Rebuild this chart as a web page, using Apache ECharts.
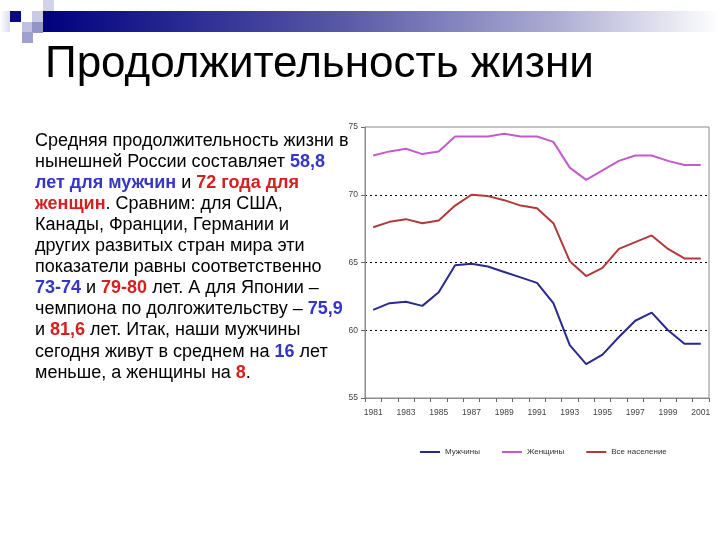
<!DOCTYPE html>
<html><head><meta charset="utf-8">
<script src="https://cdn.jsdelivr.net/npm/echarts@6/dist/echarts.min.js"></script>
<style>html,body{margin:0;padding:0;background:#fff}#c{width:720px;height:540px}</style>
</head><body><div id="c"></div>
<script>
const years = ['1981','1982','1983','1984','1985','1986','1987','1988','1989','1990','1991','1992','1993','1994','1995','1996','1997','1998','1999','2000','2001'];
const men =   [61.5,62.0,62.1,61.8,62.8,64.8,64.9,64.7,64.3,63.9,63.5,62.0,58.9,57.5,58.2,59.5,60.7,61.3,60.0,59.0,59.0];
const women = [72.9,73.2,73.4,73.0,73.2,74.3,74.3,74.3,74.5,74.3,74.3,73.9,72.0,71.1,71.8,72.5,72.9,72.9,72.5,72.2,72.2];
const all =   [67.6,68.0,68.2,67.9,68.1,69.2,70.0,69.9,69.6,69.2,69.0,67.9,65.1,64.0,64.6,66.0,66.5,67.0,66.0,65.3,65.3];
const seriesNames = ['Мужчины','Женщины','Все население'];
const yTicks = {min:55, max:75, interval:5};
const titleText = 'Продолжительность жизни';
const paraLines = [
  'Средняя продолжительность жизни в',
  'нынешней России составляет {b|58,8}',
  '{b|лет для мужчин} и {r|72 года для}',
  '{r|женщин}. Сравним: для США,',
  'Канады, Франции, Германии и',
  'других развитых стран мира эти',
  'показатели равны соответственно',
  '{b|73-74} и {r|79-80} лет. А для Японии –',
  'чемпиона по долгожительству – {b|75,9}',
  'и {r|81,6} лет. Итак, наши мужчины',
  'сегодня живут в среднем на {b|16} лет',
  'меньше, а женщины на {r|8}.'
];

const chart = echarts.init(document.getElementById('c'), null, {renderer:'canvas'});
const FF = '"Liberation Sans", Arial, sans-serif';
const sq = (x,y,c)=>({type:'rect', shape:{x:x,y:y,width:11,height:11}, style:{fill:c}, silent:true});
chart.setOption({
  animation:false,
  backgroundColor:'#fff',
  graphic:[
    {type:'rect', shape:{x:0,y:11,width:10,height:21}, style:{fill:new echarts.graphic.LinearGradient(0,0,1,0,[{offset:0,color:'#ffffff'},{offset:1,color:'#dcdcf0'}])}},
    {type:'rect', shape:{x:43,y:11,width:677,height:21}, style:{fill:new echarts.graphic.LinearGradient(0,0,1,0,[{offset:0,color:'#000080'},{offset:0.45,color:'#5a5aa8'},{offset:0.75,color:'#aaaad2'},{offset:1,color:'#ffffff'}])}},
    sq(10,11,'#0a0a80'),
    sq(32,11,'#cacae6'),
    sq(43,0,'#d2d2ea'),
    sq(22,22,'#c0c0e0'),
    sq(32,22,'#9494c8'),
    sq(22,32,'#a0a0d0'),
    {type:'text', x:45, y:65, style:{text:titleText, font:'44px '+FF, fill:'#000', verticalAlign:'middle'}},
    {type:'text', x:35, y:130, style:{
      text: paraLines.join('\n'), font:'18px '+FF, fill:'#000', lineHeight:21.1, verticalAlign:'top',
      rich:{
        b:{fill:'#3535c8', fontWeight:'bold', fontSize:18, fontFamily:FF, lineHeight:21.1},
        r:{fill:'#d42020', fontWeight:'bold', fontSize:18, fontFamily:FF, lineHeight:21.1}
      }}}
  ],
  grid:{left:365, right:11, top:127, bottom:142, show:true, borderColor:'#8c8c8c', borderWidth:1, backgroundColor:'transparent'},
  legend:{
    left:415, top:443, icon:'rect', itemWidth:20, itemHeight:2, itemGap:22,
    textStyle:{fontSize:8, color:'#333', fontFamily:FF},
    data:seriesNames
  },
  xAxis:{
    type:'category', data:years, boundaryGap:true,
    axisLine:{lineStyle:{color:'#8c8c8c'}},
    axisTick:{show:true, interval:0, length:4, lineStyle:{color:'#666'}},
    axisLabel:{interval:1, fontSize:8.5, color:'#444', fontFamily:FF, margin:10}
  },
  yAxis:{
    type:'value', min:yTicks.min, max:yTicks.max, interval:yTicks.interval,
    axisLine:{show:true, lineStyle:{color:'#8c8c8c'}},
    axisTick:{show:true, length:4, lineStyle:{color:'#666'}},
    axisLabel:{fontSize:8.5, color:'#444', fontFamily:FF, margin:7},
    splitLine:{show:true, lineStyle:{type:[2,3], color:['transparent','#000','#000','#000','transparent'], width:1}}
  },
  series:[
    {name:seriesNames[0], type:'line', data:men, symbol:'none', lineStyle:{color:'#2a2a8c', width:2}, itemStyle:{color:'#2a2a8c'}},
    {name:seriesNames[1], type:'line', data:women, symbol:'none', lineStyle:{color:'#c25ccc', width:2}, itemStyle:{color:'#c25ccc'}},
    {name:seriesNames[2], type:'line', data:all, symbol:'none', lineStyle:{color:'#b03a3a', width:2}, itemStyle:{color:'#b03a3a'}}
  ]
});
</script></body></html>
